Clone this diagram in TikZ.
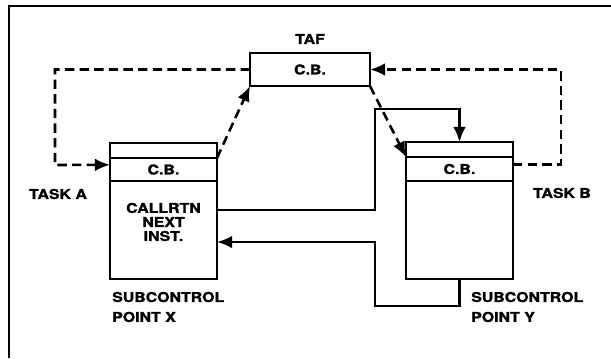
\documentclass[tikz,border=0pt]{standalone}
\usepackage{fontspec}
\setmainfont{TeX Gyre Heros}[FakeStretch=1.18,BoldFeatures={FakeBold=1.5}]
\usetikzlibrary{positioning,arrows.meta,calc}

\begin{document}
\begin{tikzpicture}[x=0.03cm,y=-0.03cm,
  lbl/.style={font=\bfseries\fontsize{11.5}{12}\selectfont,align=center,inner sep=0pt},
  cell/.style={draw,line width=2.2pt,outer sep=0pt,inner sep=0pt,minimum width=3.21cm},
  link/.style={line width=2.2pt,-{Latex[length=13pt,width=11pt]}},
  dashlink/.style={link,dash pattern=on 8pt off 4.5pt}]
\useasboundingbox (0,0) rectangle (611,358);
% outer frame (cut at right and bottom)
\draw[line width=2.4pt] (611,6) -- (9,6) -- (9,358);
% TAF control block
\node[cell,minimum width=3.6cm,minimum height=0.99cm,lbl] (taf) at (310,69.5) {C.B.};
\node[lbl] (tafname) at (310,39) {TAF};
% task A
\node[cell,minimum height=0.45cm] (aTop) at (163.5,150.5) {};
\node[cell,minimum height=0.69cm,below=0pt of aTop,lbl] (aCB) {C.B.};
\node[cell,minimum height=2.94cm,below=0pt of aCB] (aBody) {};
\node[lbl] (aCode) at (163.5,222) {CALLRTN\\NEXT\\INST.};
\node[lbl] (aName) at (58,194) {TASK A};
\node[lbl,align=left,anchor=west] (aPoint) at (112,307) {SUBCONTROL\\[5pt]POINT X};
% task B
\node[cell,minimum height=0.45cm] (bTop) at (459.5,149.5) {};
\node[cell,minimum height=0.72cm,below=0pt of bTop,lbl] (bCB) {C.B.};
\node[cell,minimum height=2.94cm,below=0pt of bCB] (bBody) {};
\node[lbl] (bName) at (562,193) {TASK B};
\node[lbl,align=left,anchor=west] (bPoint) at (471,307) {SUBCONTROL\\[5pt]POINT Y};
% dashed control block links
\coordinate (aIn) at ([yshift=0.14cm]aCB.west);
\coordinate (bOut) at ([yshift=0.14cm]bCB.east);
\draw[dashlink] (taf.west) -| (55,165) -- (aIn);
\draw[dashlink] (aCB.north east) -- (taf.south west);
\draw[dashlink] (taf.south east) -- (bCB.north west);
\draw[dashlink] (bOut) -| (561,69.5) -- (taf.east);
% call and return
\coordinate (aCall) at ([yshift=0.6cm]aBody.east);
\coordinate (aRet) at ([yshift=-0.36cm]aBody.east);
\draw[link] (aCall) -| (375,109) -| (bTop.north);
\draw[link] (bBody.south) |- (375,306) |- (aRet);
\end{tikzpicture}
\end{document}
